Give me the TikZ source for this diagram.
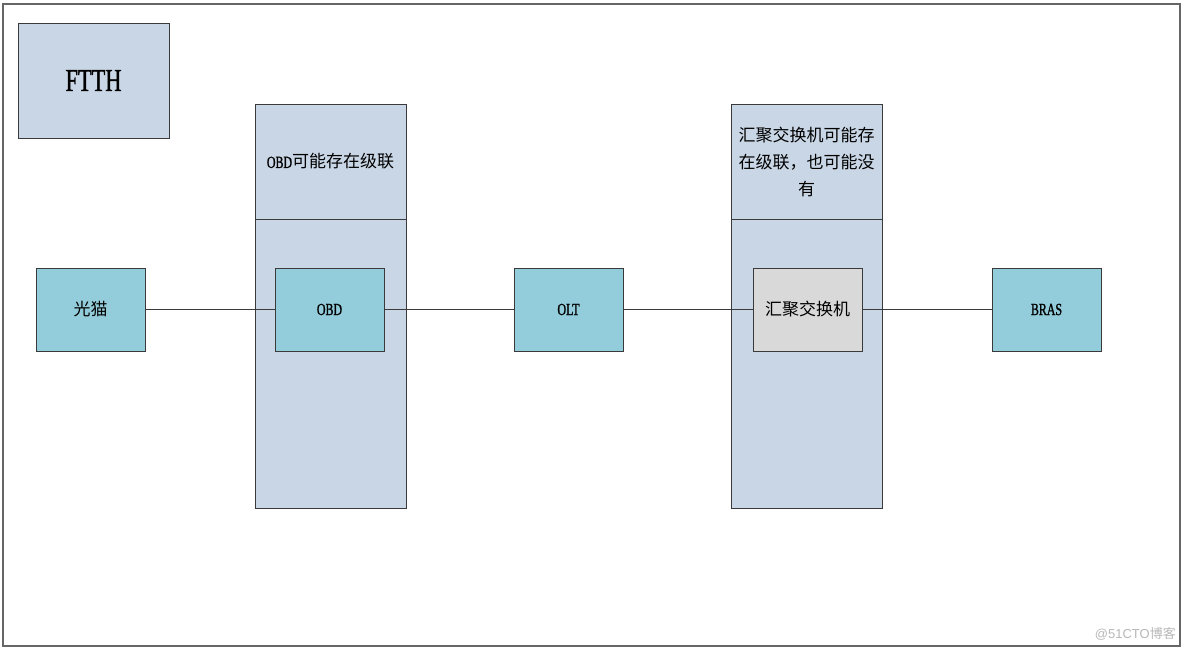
\documentclass[tikz,border=0pt]{standalone}
\usepackage{fontspec}
\setmainfont{Liberation Serif}[FakeStretch=0.7,FakeBold=1.2]
\newfontfamily\cjk{Noto Sans CJK SC}
\newfontfamily\wmfont{Liberation Sans}
\newfontfamily\wmcjk{Noto Sans CJK SC}
\definecolor{colfill}{HTML}{C9D6E5}
\definecolor{nodefill}{HTML}{93CDDC}
\definecolor{grayfill}{HTML}{D9D9D9}
\definecolor{edge}{HTML}{3A3A3A}
\begin{document}
\begin{tikzpicture}[x=1pt,y=-1pt,
  panel/.style={draw=edge,fill=colfill,line width=0.8pt},
  dev/.style={draw=edge,fill=nodefill,line width=0.8pt,minimum width=109pt,minimum height=83pt,inner sep=0pt,font=\fontsize{17}{20}\selectfont},
  link/.style={draw=edge,line width=0.7pt}]
\useasboundingbox (0,0) rectangle (1184,651);
\fill[white] (0,0) rectangle (1184,651);
\draw[draw=gray!80!black,line width=1.2pt] (3,4) rectangle (1180,646);
% FTTH
\node[panel,minimum width=151pt,minimum height=115pt,inner sep=0pt,font=\fontsize{32}{36}\selectfont] (ftth) at (93.5,80.5) {FTTH};
% columns
\draw[panel] (255,104) rectangle (406,508);
\draw[edge,line width=0.8pt] (255,219) -- (406,219);
\node[font=\fontsize{17}{20}\selectfont] (obdtxt) at (330.5,161.5) {OBD{\cjk 可能存在级联}};
\draw[panel] (731,104) rectangle (882,508);
\draw[edge,line width=0.8pt] (731,219) -- (882,219);
\node[font=\cjk\fontsize{17}{27}\selectfont,align=center] (swtxt) at (806.5,161.5) {汇聚交换机可能存\\在级联，也可能没\\有};
% devices
\node[dev] (modem) at (90.5,309.5) {\cjk 光猫};
\node[dev] (obd) at (329.5,309.5) {OBD};
\node[dev] (olt) at (568.5,309.5) {OLT};
\node[dev,fill=grayfill] (sw) at (807.5,309.5) {\cjk 汇聚交换机};
\node[dev] (bras) at (1046.5,309.5) {BRAS};
\draw[link] (modem) -- (obd);
\draw[link] (obd) -- (olt);
\draw[link] (olt) -- (sw);
\draw[link] (sw) -- (bras);
% watermark
\node[text=black!28,anchor=east,inner sep=0pt,font=\fontsize{13}{15}\selectfont] (wm) at (1176,634) {\wmfont @51CTO\wmcjk 博客};
\end{tikzpicture}
\end{document}
